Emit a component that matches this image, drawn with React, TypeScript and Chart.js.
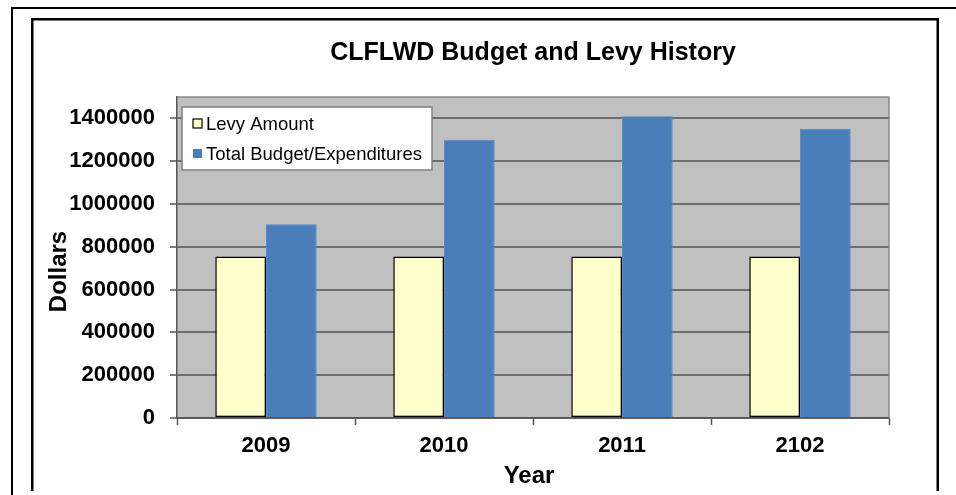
import React, { useEffect, useRef } from "react";
import { Chart, registerables } from "chart.js";

Chart.register(...registerables);

const categories = ["2009", "2010", "2011", "2102"];
const levyAmount = [755000, 755000, 755000, 755000];
const totalBudget = [905000, 1300000, 1410000, 1350000];
const seriesNames = ["Levy Amount", "Total Budget/Expenditures"];
const yMin = 0;
const yMax = 1500000;
const yStep = 200000;
const yLastTick = 1400000;
const chartTitle = "CLFLWD Budget and Levy History";
const yTitle = "Dollars";
const xTitle = "Year";

const FONT = "'Liberation Sans', Arial, sans-serif";
const LEVY_COLOR = "#FFFFCC";
const TOTAL_COLOR = "#4A7EBB";

const decorPlugin = {
  id: "decor",
  beforeDraw(chart: any) {
    const { ctx, chartArea: a, width, height } = chart;
    ctx.save();
    ctx.fillStyle = "#ffffff";
    ctx.fillRect(0, 0, width, height);
    // outer frame
    ctx.fillStyle = "#000";
    ctx.fillRect(11, 7, width - 11, 2);
    ctx.fillRect(11, 7, 2, height - 7);
    // inner frame
    ctx.fillRect(31, 18, 908, 2.5);
    ctx.fillRect(31, 18, 2.5, 473);
    ctx.fillRect(936.5, 18, 2.5, 473);
    // plot background
    ctx.fillStyle = "#C0C0C0";
    ctx.fillRect(a.left, a.top, a.right - a.left, a.bottom - a.top);
    ctx.restore();
  },
  afterDraw(chart: any) {
    const { ctx, chartArea: a } = chart;
    ctx.save();
    // plot border top/right
    ctx.strokeStyle = "#888888";
    ctx.lineWidth = 1.5;
    ctx.beginPath();
    ctx.moveTo(a.left, a.top);
    ctx.lineTo(a.right, a.top);
    ctx.lineTo(a.right, a.bottom);
    ctx.stroke();

    // title
    ctx.fillStyle = "#000";
    ctx.font = `bold 25px ${FONT}`;
    ctx.textAlign = "center";
    ctx.textBaseline = "alphabetic";
    ctx.fillText(chartTitle, (a.left + a.right) / 2, 59.5);

    // x title
    ctx.font = `bold 24px ${FONT}`;
    ctx.fillText(xTitle, 529, 483);

    // y title
    ctx.save();
    ctx.translate(66, 271.5);
    ctx.rotate(-Math.PI / 2);
    ctx.fillText(yTitle, 0, 0);
    ctx.restore();

    // legend
    const lx = 182, ly = 107, lw = 250, lh = 63;
    ctx.fillStyle = "#ffffff";
    ctx.fillRect(lx, ly, lw, lh);
    ctx.strokeStyle = "#808080";
    ctx.lineWidth = 1.5;
    ctx.strokeRect(lx, ly, lw, lh);
    const ds = chart.data.datasets;
    const rows = [123.5, 153.5];
    ctx.font = `18.5px ${FONT}`;
    ctx.textAlign = "left";
    ctx.textBaseline = "middle";
    ds.forEach((d: any, i: number) => {
      const cy = rows[i];
      ctx.fillStyle = d.backgroundColor;
      ctx.fillRect(193, cy - 4.5, 9, 9);
      if (d.borderWidth > 0 && d.borderColor === "#000000") {
        ctx.strokeStyle = "#000";
        ctx.lineWidth = 1.2;
        ctx.strokeRect(193, cy - 4.5, 9, 9);
      }
      ctx.fillStyle = "#000";
      ctx.fillText(d.label, 206, cy + 1);
    });
    ctx.restore();
  },
};

export default function App() {
  const ref = useRef<HTMLCanvasElement | null>(null);
  useEffect(() => {
    if (!ref.current) return;
    const chart = new Chart(ref.current, {
      type: "bar",
      data: {
        labels: categories,
        datasets: [
          {
            label: seriesNames[0],
            data: levyAmount,
            backgroundColor: LEVY_COLOR,
            borderColor: "#000000",
            borderWidth: 1.5,
            borderSkipped: false,
            categoryPercentage: 0.57,
            barPercentage: 1,
          },
          {
            label: seriesNames[1],
            data: totalBudget,
            backgroundColor: TOTAL_COLOR,
            borderColor: "#5A8CC8",
            borderWidth: 1,
            borderSkipped: "bottom",
            categoryPercentage: 0.57,
            barPercentage: 1,
          },
        ],
      },
      options: {
        responsive: false,
        animation: false,
        layout: { padding: { top: 97, right: 67, left: 0, bottom: 0 } },
        plugins: {
          legend: { display: false },
          title: { display: false },
          tooltip: { enabled: false },
        },
        scales: {
          x: {
            offset: true,
            grid: {
              offset: true,
              drawOnChartArea: false,
              drawTicks: true,
              tickLength: 7,
              tickColor: "#555555",
              tickWidth: 1.5,
            },
            border: { display: true, color: "#555555", width: 1.5 },
            ticks: {
              color: "#000",
              font: { family: FONT, size: 22, weight: "bold" },
              padding: 8,
            },
            afterFit: (s: any) => {
              s.height = 77;
            },
          },
          y: {
            min: yMin,
            bounds: "data",
            ticks: {
              stepSize: yStep,
              color: "#000",
              font: { family: FONT, size: 22, weight: "bold" },
              padding: 15,
              callback: (v: any) => String(v),
            },
            grid: {
              color: "#6e6e6e",
              lineWidth: 2,
              drawTicks: true,
              tickLength: 7,
              tickColor: "#555555",
              tickWidth: 1.5,
            },
            border: { display: true, color: "#555555", width: 1.5 },
            afterDataLimits: (s: any) => {
              s.min = yMin;
              s.max = yMax;
            },
            afterBuildTicks: (s: any) => {
              s.ticks = s.ticks.filter((t: any) => t.value <= yLastTick);
            },
            afterFit: (s: any) => {
              s.width = 177;
            },
          },
        },
      },
      plugins: [decorPlugin],
    });
    return () => chart.destroy();
  }, []);
  return (
    <div style={{ position: "fixed", left: 0, top: 0, width: 956, height: 495 }}>
      <canvas ref={ref} width={956} height={495} />
    </div>
  );
}
